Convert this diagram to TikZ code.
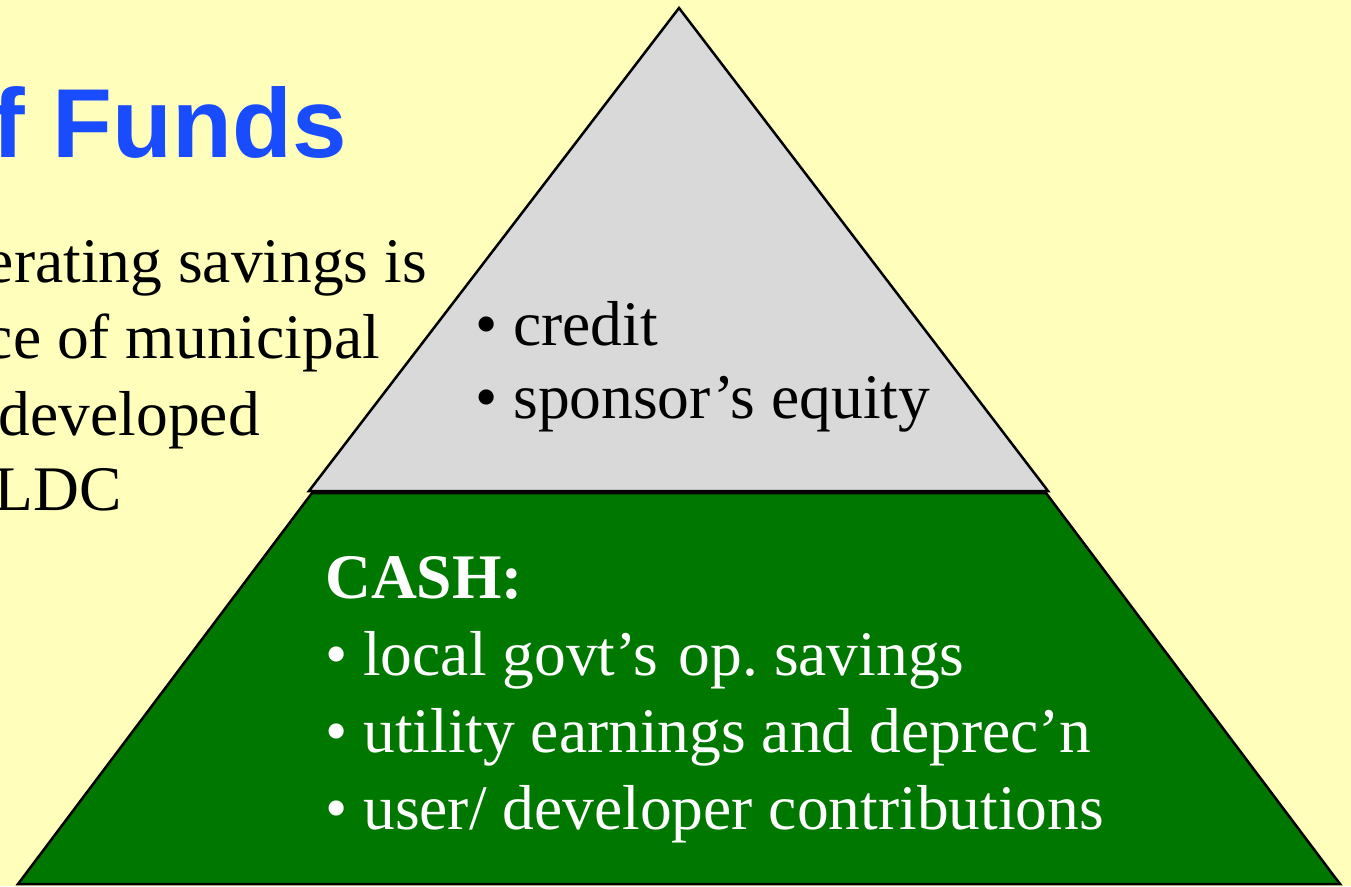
\documentclass[tikz,border=0pt]{standalone}
\usepackage{fontspec}
\setmainfont{Liberation Serif}
\newfontfamily\headfont{Liberation Sans}
\definecolor{slidebg}{HTML}{FFFFBB}
\definecolor{creditgray}{HTML}{D9D9D9}
\definecolor{cashgreen}{HTML}{007800}
\definecolor{headblue}{HTML}{1A4CFF}
\frenchspacing

\begin{document}
\begin{tikzpicture}[x=1pt, y=-1pt,
  tier/.style={draw=black, line width=2.5pt, line join=miter},
  txt/.style={inner sep=0pt, anchor=base west, font=\fontsize{63.5}{76}\selectfont},
  side/.style={txt, anchor=base east},
  cash/.style={txt, text=white}]
% page and background
\fill[slidebg] (0,0) rectangle (1351,886);
\useasboundingbox (0,0) rectangle (1351,886);
% heading and body text on the left
\node[inner sep=0pt, anchor=base east, text=headblue, font=\headfont\bfseries\fontsize{98}{110}\selectfont] (head) at (347,157) {f Funds};
\node[side] (s1) at (427,282) {erating savings is};
\node[side] (s2) at (380,358) {ce of municipal};
\node[side] (s3) at (260,435) {developed};
\node[side] (s4) at (122,510) {LDC};
% the pyramid: cash at the base, credit on top
\filldraw[tier, fill=cashgreen] (312,493) -- (1046,493) -- (1340,884) -- (18,884) -- cycle;
\filldraw[tier, fill=creditgray] (679,8) -- (309,491) -- (1048,491) -- cycle;
\node[txt] (credit) at (475,345) {\textbullet\ credit};
\node[txt] (equity) at (475,418) {\textbullet\ sponsor’s equity};
\node[cash, font=\bfseries\fontsize{63.5}{76}\selectfont] (cashhead) at (325,598) {CASH:};
\foreach \i/\item in {1/{local govt’s\hspace{0.33em}op. savings}, 2/{utility earnings and deprec’n}, 3/{user/ developer contributions}}
  \node[cash] (cash\i) at (325,598+77*\i) {\textbullet\ \item};
\end{tikzpicture}
\end{document}
